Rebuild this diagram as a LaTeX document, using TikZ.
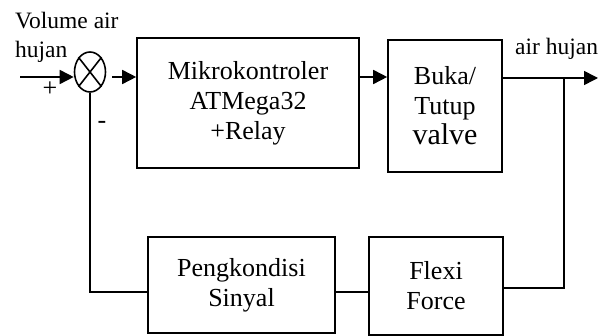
\documentclass[tikz,border=0pt]{standalone}
\usepackage{fontspec}
\setmainfont{Liberation Serif}
\usetikzlibrary{shapes.geometric,arrows.meta}
\tikzset{
  blok/.style={draw,line width=1.6pt,align=center,inner sep=0pt,
    font=\fontsize{26}{30}\selectfont},
  garis/.style={line width=1.6pt},
  panah/.style={garis,-{Triangle[length=14pt,width=14pt]}},
  teks/.style={inner sep=0pt,font=\fontsize{23.5}{29}\selectfont},
}
\begin{document}
\begin{tikzpicture}[x=1pt,y=-1pt]
\useasboundingbox (0,0) rectangle (605,336);

% Penjumlah
\node[draw,ellipse,line width=1.6pt,minimum width=31pt,minimum height=40pt,
  inner sep=0pt] (jumlah) at (90,72) {};
\draw[garis] (jumlah.north west) -- (jumlah.south east);
\draw[garis] (jumlah.north east) -- (jumlah.south west);

% Blok maju
\node[blok,minimum width=222pt,minimum height=130pt] (mikro) at (248,103)
{Mikrokontroler\\ATMega32\\+Relay};
\node[blok,minimum width=114pt,minimum height=132pt] (valve) at (445,106)
{Buka/\\Tutup\\{\fontsize{30}{34}\selectfont valve}};

% Blok umpan balik
\node[blok,minimum width=187pt,minimum height=96pt] (kondisi) at (241.5,285)
{Pengkondisi\\Sinyal};
\node[blok,minimum width=134pt,minimum height=98pt] (flexi) at (436,286)
{Flexi\\Force};

% Titik bantu
\coordinate (masuk) at (20,77);
\coordinate (keluar) at (598,78);
\coordinate (cabang) at (564,78);
\coordinate (kanan) at (564,288);
\coordinate (tengah) at (350,292);
\coordinate (kiri) at (90,292);

% Label
\node[teks,anchor=north west,align=left] (volume) at (15,12)
{Volume air\\hujan};
\node[teks,anchor=base west] (hujan) at (515,55) {air hujan};
\node[teks,font=\fontsize{26}{30}\selectfont] (plus) at (50,89) {+};
\node[teks,font=\fontsize{26}{30}\selectfont] (minus) at (102,125) {-};

% Jalur maju
\draw[panah] (masuk) -- (masuk -| jumlah.west);
\draw[panah,shorten <=6pt] (jumlah.east |- masuk) -- (mikro.west |- masuk);
\draw[panah] (mikro.east |- masuk) -- (valve.west |- masuk);
\draw[panah] (valve.east |- keluar) -- (keluar);

% Jalur umpan balik
\draw[garis] (cabang) -- (kanan) -- (flexi.east |- kanan);
\draw[garis] (flexi.west |- tengah) -- (kondisi.east |- tengah);
\draw[garis] (kondisi.west |- kiri) -- (kiri) -- (jumlah.south);

\end{tikzpicture}
\end{document}
